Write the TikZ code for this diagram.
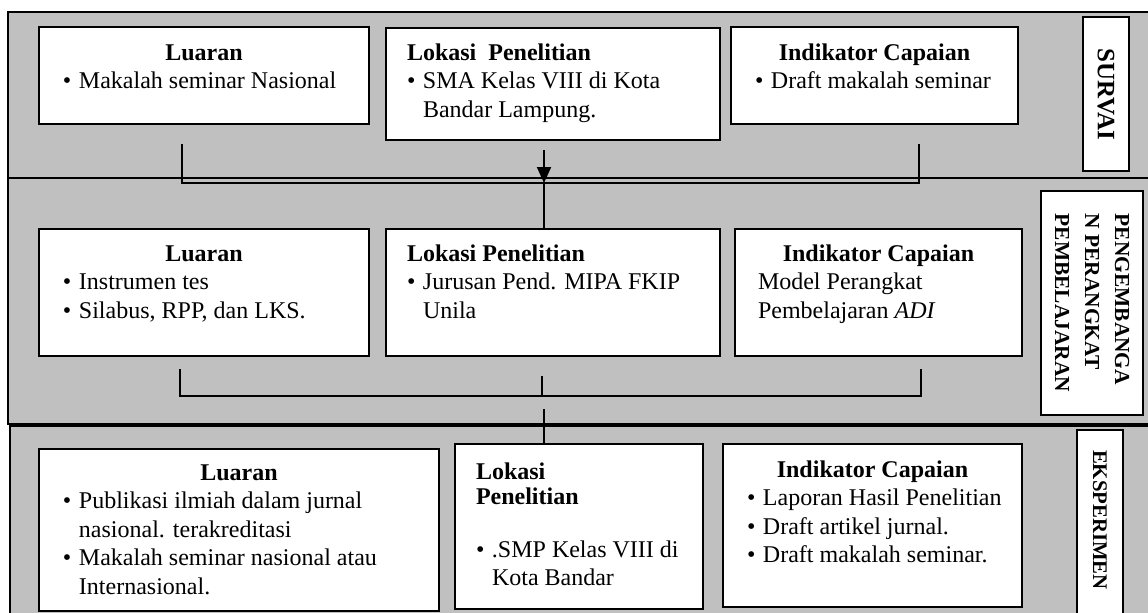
\documentclass[tikz,border=0pt]{standalone}
\usepackage{fontspec}
\setmainfont{Liberation Serif}
\usepackage{xcolor}
\usetikzlibrary{positioning, calc, arrows.meta}
\definecolor{bandgray}{RGB}{192,192,192}

\newcommand{\bodyfont}{\fontsize{12pt}{14.3pt}\selectfont}
% width, height, left pad, top pad, content
\newcommand{\cellbox}[5]{\parbox[t][#2][t]{#1}{\leftskip=#3\relax\rightskip=0pt plus 1fil\relax\parindent=0pt\parskip=0pt\vspace*{#4}#5}}
\newcommand{\itm}[1]{\par\noindent\hangindent=8pt\hangafter=1\relax\makebox[8pt][l]{\textbullet}#1\par}
\newcommand{\ttl}[1]{{\centering\bfseries\strut#1\par}}

\begin{document}
\begin{tikzpicture}[
    x=0.5pt, y=-0.5pt,
    box/.style={draw, fill=white, line width=1pt, inner sep=0pt, anchor=north west, font=\bodyfont},
    tag/.style={draw, fill=white, line width=1pt, rotate=-90, inner sep=0pt},
    band/.style={fill=bandgray, draw, line width=0.6pt},
    conn/.style={line width=1pt},
    arrow/.style={-{Triangle[length=8pt,width=7pt]}, line width=1pt}
]
\useasboundingbox (0,0) rectangle (1148,612);
\clip (0,0) rectangle (1148,612);

% bands
\draw[band] (8,12) rectangle (1160,178);
\draw[band] (8,178) rectangle (1160,424);
\draw[band] (10,426) rectangle (1160,640);

% survai
\node[box] (lua1) at (38,26) {\cellbox{165pt}{48.5pt}{12pt}{6.5pt}{\ttl{Luaran}\itm{Makalah seminar Nasional}}};
\node[box] (lok1) at (385,27) {\cellbox{167pt}{56pt}{10.5pt}{6pt}{{\bfseries\strut Lokasi\ \ Penelitian\par}\itm{SMA Kelas VIII di Kota\\Bandar Lampung.}}};
\node[box] (ind1) at (730,26) {\cellbox{143.5pt}{48.5pt}{12pt}{6.5pt}{\ttl{Indikator Capaian}\itm{Draft makalah seminar}}};
\node[tag, minimum width=77pt, minimum height=23pt, font=\fontsize{12.5pt}{15pt}\selectfont\bfseries] (survai) at (1106,94) {SURVAI};

% pengembangan
\node[box] (lua2) at (38,228) {\cellbox{165pt}{63.5pt}{12pt}{6pt}{\ttl{Luaran}\itm{Instrumen tes}\itm{Silabus, RPP, dan LKS.}}};
\node[box] (lok2) at (385,228) {\cellbox{167pt}{63.5pt}{10.5pt}{6pt}{{\bfseries\strut Lokasi Penelitian\par}\itm{Jurusan Pend. MIPA FKIP\\Unila}}};
\node[box] (ind2) at (734,228) {\cellbox{143.5pt}{63.5pt}{11.5pt}{6pt}{\ttl{Indikator Capaian}Model Perangkat\\Pembelajaran \textit{ADI}\par}};
\node[tag, minimum width=112pt, minimum height=51pt, align=left, font=\fontsize{10.7pt}{15pt}\selectfont\bfseries] (peng) at (1092,303) {PENGEMBANGA\\N PERANGKAT\\PEMBELAJARAN};

% eksperimen
\node[box] (lua3) at (38,448) {\cellbox{200pt}{81pt}{12pt}{5.5pt}{\ttl{Luaran}\itm{Publikasi ilmiah dalam jurnal\\nasional. terakreditasi}\itm{Makalah seminar nasional atau\\Internasional.}}};
\node[box] (lok3) at (454,443) {\cellbox{124pt}{82.5pt}{10.5pt}{7.5pt}{{\bfseries\strut Lokasi\\[-1.8pt]Penelitian\par}\vspace{12.2pt}\itm{.SMP Kelas VIII di\\Kota Bandar}}};
\node[box] (ind3) at (722,443) {\cellbox{149.5pt}{81.5pt}{12pt}{6.5pt}{\ttl{Indikator Capaian}\itm{Laporan Hasil Penelitian}\itm{Draft artikel jurnal.}\itm{Draft makalah seminar.}}};
\node[tag, anchor=west, text width=100pt, align=left, inner xsep=10pt, minimum height=23pt, font=\fontsize{10.4pt}{12pt}\selectfont\bfseries] (eks) at (1100,429) {EKSPERIMEN};

% connectors
\coordinate (s1a) at (182,144);
\coordinate (s1b) at (919,144);
\coordinate (s1c) at (544,150);
\coordinate (bus1) at (182,183);
\draw[conn] (s1a) -- (bus1) -- (bus1 -| s1b) -- (s1b);
\draw[arrow] (s1c) -- (s1c |- bus1);
\draw[conn] (s1c |- bus1) -- (s1c |- lok2.north);

\coordinate (s2a) at (180,369);
\coordinate (s2b) at (921,369);
\coordinate (s2c) at (542,376);
\coordinate (bus2) at (180,396);
\draw[conn] (s2a) -- (bus2) -- (bus2 -| s2b) -- (s2b);
\draw[conn] (s2c) -- (s2c |- bus2);
\coordinate (s3) at (544,409);
\draw[conn] (s3) -- (s3 |- lok3.north);
\end{tikzpicture}
\end{document}
